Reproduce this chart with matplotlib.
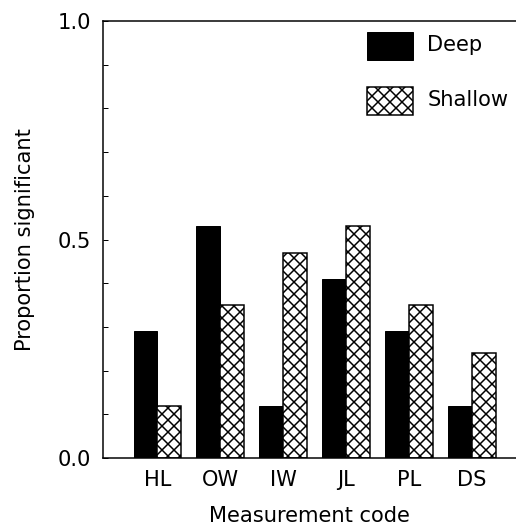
import numpy as np
import matplotlib
matplotlib.use("Agg")
import matplotlib.pyplot as plt

# datos
codigos = ["HL", "OW", "IW", "JL", "PL", "DS"]
deep = [0.29, 0.53, 0.12, 0.41, 0.29, 0.12]
shallow = [0.12, 0.35, 0.47, 0.53, 0.35, 0.24]

plt.rcParams['font.family'] = 'DejaVu Sans'
plt.rcParams['hatch.linewidth'] = 1.5

# dpi 72 -> 1 pt = 1 px
fig = plt.figure(figsize=(516 / 72, 532 / 72), dpi=72)
ax = fig.add_axes([103 / 516, 1 - 458 / 532, 1 - 103 / 516, (458 - 21) / 532])

x = np.arange(len(codigos))
w = 0.38
ax.bar(x - w / 2, deep, w, color="black", edgecolor="black", linewidth=1, label="Deep")
ax.bar(x + w / 2, shallow, w, color="white", edgecolor="black", linewidth=1.5,
       hatch="xx", label="Shallow")

ax.set_xlim(-0.865, 5.70)
ax.set_ylim(0, 1.0)
ax.set_xticks(x)
ax.set_xticklabels(codigos)
ax.set_yticks([0, 0.5, 1.0])
ax.set_yticklabels(["0.0", "0.5", "1.0"])
ax.set_yticks(np.arange(0, 1.01, 0.1), minor=True)
ax.tick_params(axis="x", length=0, pad=12, labelsize=21)
ax.tick_params(axis="y", which="both", direction="in", length=5, width=1,
               pad=12, labelsize=21)

for s in ["left", "top", "bottom"]:
    ax.spines[s].set_linewidth(1.5)
ax.spines["right"].set_visible(False)

ax.set_xlabel("Measurement code", fontsize=21, labelpad=16)
ax.set_ylabel("Proportion significant", fontsize=21, labelpad=22)

fig.legend(loc="upper left", bbox_to_anchor=(367 / 516, 1 - 32 / 532),
           frameon=False, fontsize=21, handlelength=2.2, handleheight=1.35,
           labelspacing=1.5, handletextpad=0.67, borderpad=0, borderaxespad=0)
leg = fig.legends[0]
for h in leg.legend_handles:
    h.set_height(28)
    h.set_y(h.get_y() - 4)

fig.savefig("out.png", dpi=72)
